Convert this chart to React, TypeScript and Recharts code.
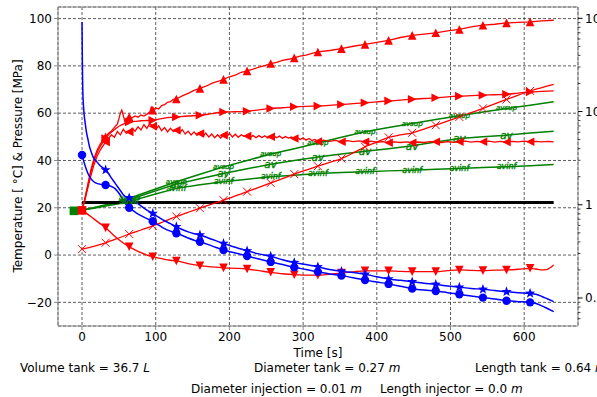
import React from "react";
import { ComposedChart, Line, XAxis, YAxis, CartesianGrid } from "recharts";

const FONT = "DejaVu Sans, sans-serif";
const RED = "#ff0000";
const BLUE = "#0000ff";
const GREEN = "#008000";

// [time s, value] pairs
const upPts: [number, number][] = [
  [0, 19], [4, 24], [8, 30], [12, 36], [16, 40.5], [20, 44], [24, 46.5], [28, 48.5], [32, 50],
  [36, 51.5], [40, 52.5], [44, 54], [48, 55.5], [50, 57.5], [52, 60], [54, 61.3], [56, 59],
  [58, 56.5], [60, 57.5], [64, 58.4], [68, 58], [72, 58.8], [76, 58.3], [80, 59.2], [84, 58.8],
  [88, 59.6], [92, 60.5], [94, 62.5], [96, 61.3], [100, 62.2], [104, 61.8], [108, 63.2],
  [112, 63.6], [116, 64.6], [120, 64.9], [124, 65.8], [128, 66], [136, 67.3], [144, 68.4],
  [152, 69.6], [160, 70.5], [168, 71.4], [176, 72.6], [184, 73.4], [192, 74.3], [200, 75.4],
  [208, 76.1], [216, 77.3], [224, 77.9], [232, 78.6], [240, 79.5], [248, 80.1], [256, 81],
  [264, 81.5], [272, 82.3], [280, 82.8], [288, 83.4], [296, 84.1], [304, 84.5], [312, 85.3],
  [320, 85.9], [336, 86.5], [352, 87.3], [368, 88.3], [384, 89.1], [400, 89.9], [416, 90.8],
  [432, 92], [448, 92.9], [464, 93.4], [480, 94], [496, 94.8], [512, 95.4], [528, 96.5],
  [544, 97.2], [560, 97.6], [576, 98.2], [592, 98.4], [608, 98.6], [624, 99], [640, 99.3],
];

const rightPts: [number, number][] = [
  [0, 19], [4, 24], [8, 29.5], [12, 35], [16, 39.5], [20, 43], [24, 45.5], [28, 47.5], [32, 49.3],
  [36, 50.8], [40, 52], [44, 53], [48, 54], [52, 54.8], [56, 55.4], [60, 55.9], [64, 56.3],
  [72, 56.5], [80, 56.8], [88, 56.9], [96, 57], [104, 57.5], [112, 57.9], [120, 58.2], [128, 58.4],
  [144, 58.8], [160, 59.1], [176, 59.8], [192, 60.5], [208, 60.6], [224, 60.8], [240, 61.4],
  [256, 62], [272, 62.3], [288, 62.7], [304, 62.9], [320, 63], [336, 63.3], [352, 63.7],
  [368, 64], [384, 64.4], [400, 64.8], [416, 65.2], [432, 65.5], [448, 65.9], [464, 66.2],
  [480, 66.5], [496, 66.9], [512, 67.2], [528, 67.4], [544, 67.6], [560, 67.8], [576, 68],
  [592, 68.5], [608, 69], [624, 69.2], [640, 69.4],
];

const leftPts: [number, number][] = [
  [0, 19], [4, 23.5], [8, 28.5], [12, 33.5], [16, 38], [20, 41.5], [24, 44], [28, 46], [32, 47.8],
  [36, 49.5], [40, 50.8], [44, 49.8], [48, 52.3], [52, 50.8], [56, 53.2], [60, 51.5], [64, 52.1],
  [68, 53.6], [72, 52.4], [76, 54.2], [80, 52.9], [84, 55.1], [88, 53.6], [92, 55.6], [96, 54.5],
  [100, 53.1], [104, 54.6], [108, 52.6], [112, 53.9], [116, 52.1], [120, 53.6], [124, 52.3],
  [128, 52.8], [132, 51.5], [136, 53.1], [140, 51.2], [144, 52.4], [148, 50.8], [152, 52.1],
  [156, 50.6], [160, 51.4], [164, 50.1], [168, 51.6], [172, 49.9], [176, 51.2], [180, 49.6],
  [184, 50.9], [188, 49.5], [192, 50.7], [196, 49.7], [200, 51.6], [204, 49.9], [208, 51.1],
  [212, 49.8], [216, 50.9], [220, 50.2], [224, 50.3], [228, 49.5], [232, 50.6], [236, 49.6],
  [240, 50.5], [244, 49.7], [248, 50.4], [252, 49.5], [256, 50], [260, 50.6], [264, 49.6],
  [268, 50.3], [272, 49.4], [276, 50.1], [280, 49.5], [284, 49.9], [288, 49.3], [292, 49.8],
  [296, 48.9], [300, 49.5], [304, 48.6], [308, 49.3], [312, 48.4], [316, 48.9], [320, 48],
  [328, 48.6], [336, 48.1], [344, 48.5], [352, 47.9], [360, 48.4], [368, 48], [376, 48.3],
  [384, 47.9], [392, 48.2], [400, 47.7], [408, 48], [416, 47.5], [424, 47.9], [432, 47.6],
  [440, 47.9], [448, 47.5], [456, 47.8], [464, 47.6], [472, 48], [480, 47.9], [488, 47.6],
  [496, 48], [504, 47.7], [512, 47.9], [520, 48.2], [528, 47.8], [536, 48.1], [544, 47.9],
  [552, 48.2], [560, 47.8], [568, 48.1], [576, 47.8], [584, 48.1], [592, 47.9], [600, 48.2],
  [608, 47.9], [616, 48.1], [624, 47.9], [632, 48.1], [640, 47.9],
];

const downPts: [number, number][] = [
  [0, 19], [8, 17.2], [16, 15.3], [24, 13.4], [32, 11.5], [40, 9.2], [48, 7], [56, 5.1], [64, 3.5],
  [72, 2.2], [80, 1], [88, 0], [96, -0.7], [104, -1.3], [112, -1.8], [120, -2.2], [128, -2.5],
  [144, -3.6], [160, -4.5], [176, -5], [192, -5.4], [208, -5.6], [224, -5.9], [240, -6.6],
  [256, -7.3], [272, -7.9], [288, -8.3], [304, -8.5], [320, -8.5], [336, -8.1], [352, -7.6],
  [368, -7.1], [384, -6.7], [400, -6.7], [416, -6.7], [432, -6.9], [448, -7], [464, -7],
  [480, -7], [496, -6.6], [512, -6.3], [528, -6.5], [544, -6.6], [560, -6.4], [576, -6.3],
  [592, -6], [608, -5.6], [616, -5.9], [624, -6.3], [630, -6.2], [634, -5.6], [640, -4.2],
];

const crossPts: [number, number][] = [
  [0, 2.5], [16, 3.7], [32, 5.2], [48, 7], [64, 8.9], [80, 10.6], [96, 12.3], [112, 14.3],
  [128, 16.3], [144, 18.1], [160, 19.8], [176, 21.5], [192, 23.2], [208, 25], [224, 26.8],
  [240, 28.6], [256, 30.5], [272, 32.3], [288, 34.2], [304, 35.9], [320, 37.6], [336, 39.2],
  [352, 40.8], [368, 43.2], [384, 45.8], [400, 47.8], [416, 49.8], [432, 50.8], [448, 51.7],
  [464, 53.3], [480, 54.9], [496, 56.6], [512, 58.4], [528, 60.2], [544, 62], [560, 63.9],
  [576, 65.8], [592, 67.6], [608, 69.4], [624, 70.8], [640, 72.2],
];

const starPts: [number, number][] = [
  [0, 98.6], [0.5, 80], [1, 70], [2, 63], [3, 59], [4, 56.5], [6, 52], [8, 49], [10, 46],
  [12, 44], [15, 41.5], [20, 39.5], [24, 38], [28, 37], [32, 36], [36, 34.5], [40, 32.5],
  [44, 30.8], [48, 29], [52, 27.3], [56, 25.5], [60, 24.5], [64, 24.2], [72, 22.5], [80, 20.8],
  [88, 19], [96, 17.6], [104, 16], [112, 14.5], [120, 13.3], [128, 12], [136, 10.8], [144, 9.8],
  [152, 9], [160, 8.5], [176, 6.7], [192, 4.9], [208, 3.3], [224, 1.8], [240, 0.5], [256, -0.5],
  [272, -2], [288, -3.2], [304, -4], [320, -5], [336, -6.1], [352, -6.9], [368, -7.4],
  [384, -8.1], [400, -9.2], [416, -10.1], [432, -10.7], [448, -11.3], [464, -11.9], [480, -12.4],
  [496, -13.1], [512, -13.6], [528, -14.1], [544, -14.5], [560, -15], [576, -15.5], [592, -15.9],
  [608, -16.2], [616, -16.6], [624, -17.5], [632, -18.6], [640, -19.7],
];

const dotPts: [number, number][] = [
  [0, 42.3], [4, 38], [8, 34.5], [12, 32.3], [16, 31], [20, 30.3], [24, 30], [28, 29.8],
  [32, 29.6], [36, 29.4], [40, 29], [44, 28.3], [48, 27], [52, 25.3], [56, 23.3], [60, 21.3],
  [64, 20], [72, 18.2], [80, 16.7], [88, 15.4], [96, 14.3], [104, 12.7], [112, 11.2], [120, 10.1],
  [128, 9.2], [136, 8.3], [144, 7.2], [152, 6.3], [160, 5.6], [176, 3.9], [192, 2.1], [208, 0.9],
  [224, -0.4], [240, -1.7], [256, -2.9], [272, -4], [288, -5.2], [304, -6.1], [320, -7.1],
  [336, -8], [352, -8.7], [368, -9.6], [384, -10.6], [400, -11.4], [416, -12.2], [432, -13.2],
  [448, -14.2], [464, -14.8], [480, -15.2], [496, -15.9], [512, -16.6], [528, -17.3], [544, -18],
  [560, -18.6], [576, -19.3], [592, -19.7], [608, -20], [616, -20.5], [624, -21.5], [632, -22.7],
  [640, -23.9],
];

const avsupPts: [number, number][] = [
  [-14, 18.5], [0, 19], [16, 20], [32, 21.3], [48, 22.6], [64, 24], [96, 27.5], [128, 31],
  [160, 34.2], [192, 37.3], [224, 40], [256, 42.7], [288, 45], [320, 47.4], [352, 49.8],
  [384, 52.1], [416, 53.9], [448, 55.6], [480, 57.3], [512, 58.9], [544, 60.5], [576, 62],
  [608, 63.4], [640, 64.8],
];

const avPts: [number, number][] = [
  [-14, 18.5], [0, 19], [16, 20], [32, 21], [48, 22.2], [64, 23.4], [96, 26.8], [128, 30],
  [160, 32.3], [192, 34.5], [224, 36.5], [256, 38.4], [288, 40], [320, 41.5], [352, 42.7],
  [384, 43.9], [416, 45], [448, 46.2], [480, 47.8], [512, 49.3], [544, 50], [576, 50.7],
  [608, 51.6], [640, 52.4],
];

const avinfPts: [number, number][] = [
  [-14, 18.5], [0, 19], [16, 19.8], [32, 20.7], [48, 21.6], [64, 22.6], [96, 25.5], [128, 28.2],
  [160, 29.7], [192, 31], [224, 32.1], [256, 33.1], [288, 33.8], [320, 34.5], [352, 34.9],
  [384, 35.2], [416, 35.6], [448, 35.9], [480, 36.3], [512, 36.6], [544, 37], [576, 37.3],
  [608, 37.8], [640, 38.3],
];

const redSquare: [number, number][] = [[0, 18.9]];
const greenSquare: [number, number][] = [[-11, 18.7]];
// pressure [MPa] on the log axis
const pressurePts: [number, number][] = [[0, 1.06], [640, 1.06]];

const xTicks = [0, 100, 200, 300, 400, 500, 600];
const yTicks = [-20, 0, 20, 40, 60, 80, 100];
const pMajor = [0.1, 1, 10, 100];
const pMinor = [0.06, 0.07, 0.08, 0.09, 0.2, 0.3, 0.4, 0.5, 0.6, 0.7, 0.8, 0.9,
  2, 3, 4, 5, 6, 7, 8, 9, 20, 30, 40, 50, 60, 70, 80, 90];

const toRows = (pts: [number, number][]) => pts.map(([t, v]) => ({ t, v }));

function shape(kind: string, color: string, cx: number, cy: number, key: string) {
  const r = 4.3;
  switch (kind) {
    case "up":
      return <polygon key={key} points={`${cx},${cy - r} ${cx + r},${cy + r} ${cx - r},${cy + r}`} fill={color} />;
    case "down":
      return <polygon key={key} points={`${cx},${cy + r} ${cx + r},${cy - r} ${cx - r},${cy - r}`} fill={color} />;
    case "right":
      return <polygon key={key} points={`${cx + r},${cy} ${cx - r},${cy - r} ${cx - r},${cy + r}`} fill={color} />;
    case "left":
      return <polygon key={key} points={`${cx - r},${cy} ${cx + r},${cy - r} ${cx + r},${cy + r}`} fill={color} />;
    case "circle":
      return <circle key={key} cx={cx} cy={cy} r={4.2} fill={color} />;
    case "square":
      return <rect key={key} x={cx - 4.3} y={cy - 4.3} width={8.6} height={8.6} fill={color} />;
    case "x":
      return (
        <path key={key} d={`M${cx - 4} ${cy - 4}L${cx + 4} ${cy + 4}M${cx - 4} ${cy + 4}L${cx + 4} ${cy - 4}`}
          stroke={color} strokeWidth={1} />
      );
    case "star": {
      const pts: string[] = [];
      for (let i = 0; i < 10; i++) {
        const rad = i % 2 === 0 ? 5.4 : 2.2;
        const a = -Math.PI / 2 + (i * Math.PI) / 5;
        pts.push(`${cx + rad * Math.cos(a)},${cy + rad * Math.sin(a)}`);
      }
      return <polygon key={key} points={pts.join(" ")} fill={color} />;
    }
    default:
      return <g key={key} />;
  }
}

function marks(name: string, kind: string, color: string, from: number, every: number) {
  return (p: any) => {
    const t = p.payload?.t;
    const key = `${name}-${p.index}`;
    if (t == null || t < from || t > 608 || t % every !== 0 || p.cx == null) return <g key={key} />;
    return shape(kind, color, p.cx, p.cy, key);
  };
}

function textMarks(name: string, label: string, size: number) {
  return (p: any) => {
    const t = p.payload?.t;
    const key = `${name}-${p.index}`;
    if (t == null || t < 64 || t > 576 || t % 64 !== 0 || p.cx == null) return <g key={key} />;
    return (
      <text key={key} x={p.cx} y={p.cy} textAnchor="middle" dominantBaseline="central"
        fontFamily={FONT} fontStyle="italic" fontSize={size} fill={GREEN}
        stroke={GREEN} strokeWidth={0.35}>
        {label}
      </text>
    );
  };
}

const fmtLeft = (v: number) => (v < 0 ? `\u2212${Math.abs(v)}` : `${v}`);

const RightTick = (props: any) => {
  const { x, y, payload } = props;
  const v = payload.value;
  const major = pMajor.includes(v);
  return (
    <g>
      <line x1={x} x2={x + (major ? 4.5 : 2.5)} y1={y} y2={y} stroke="#000" strokeWidth={major ? 1 : 0.7} />
      {major && (
        <text x={x + 7} y={y} dy="0.35em" fontSize={12} fontFamily={FONT} fill="#000">
          {String(v)}
        </text>
      )}
    </g>
  );
};

export default function App() {
  const common = { xAxisId: "x", dataKey: "v", isAnimationActive: false, activeDot: false as const };
  return (
    <div style={{ position: "absolute", left: 0, top: 0, width: 597, height: 397, overflow: "hidden", background: "#fff" }}>
      <ComposedChart width={597} height={397} margin={{ top: 7, right: 0, bottom: 46, left: 0 }}>
        <CartesianGrid xAxisId="x" yAxisId="left" stroke="#333" strokeWidth={0.8} strokeDasharray="3 2" />
        <XAxis xAxisId="x" dataKey="t" type="number" domain={[-32.6, 673]} allowDataOverflow ticks={xTicks}
          interval={0} height={25} tickSize={4} tickMargin={2} stroke="#888"
          tick={{ fontSize: 12, fontFamily: FONT, fill: "#000" }} />
        <YAxis yAxisId="left" type="number" domain={[-30, 104.9]} allowDataOverflow ticks={yTicks}
          interval={0} width={58} tickSize={4} tickMargin={2} stroke="#888" tickFormatter={fmtLeft}
          tick={{ fontSize: 12, fontFamily: FONT, fill: "#000" }} />
        <YAxis yAxisId="right" orientation="right" scale="log" type="number" domain={[0.0501, 132.2]}
          allowDataOverflow ticks={[...pMinor, ...pMajor].sort((a, b) => a - b)} interval={0} width={19}
          tickSize={0} tickMargin={0} tickLine={false} stroke="#888" tick={<RightTick />} />

        <Line {...common} yAxisId="left" data={toRows(avsupPts)} stroke={GREEN} strokeWidth={1.5} dot={textMarks("avsup", "avsup", 7)} />
        <Line {...common} yAxisId="left" data={toRows(avPts)} stroke={GREEN} strokeWidth={1.5} dot={textMarks("av", "av", 10.5)} />
        <Line {...common} yAxisId="left" data={toRows(avinfPts)} stroke={GREEN} strokeWidth={1.5} dot={textMarks("avinf", "avinf", 8)} />
        <Line {...common} yAxisId="left" data={toRows(greenSquare)} stroke={GREEN} dot={marks("gsq", "square", GREEN, -100, 1)} />

        <Line {...common} yAxisId="right" data={toRows(pressurePts)} stroke="#000" strokeWidth={3} dot={false} />

        <Line {...common} yAxisId="left" data={toRows(upPts)} stroke={RED} strokeWidth={1.3} dot={marks("up", "up", RED, 32, 32)} />
        <Line {...common} yAxisId="left" data={toRows(rightPts)} stroke={RED} strokeWidth={1.3} type="monotone" dot={marks("right", "right", RED, 32, 32)} />
        <Line {...common} yAxisId="left" data={toRows(leftPts)} stroke={RED} strokeWidth={1.3} dot={marks("left", "left", RED, 32, 32)} />
        <Line {...common} yAxisId="left" data={toRows(downPts)} stroke={RED} strokeWidth={1.3} type="monotone" dot={marks("down", "down", RED, 32, 32)} />
        <Line {...common} yAxisId="left" data={toRows(crossPts)} stroke={RED} strokeWidth={1.3} type="monotone" dot={marks("cross", "x", RED, 0, 32)} />
        <Line {...common} yAxisId="left" data={toRows(redSquare)} stroke={RED} dot={marks("rsq", "square", RED, -100, 1)} />

        <Line {...common} yAxisId="left" data={toRows(starPts)} stroke={BLUE} strokeWidth={1.5} type="monotone" dot={marks("star", "star", BLUE, 32, 32)} />
        <Line {...common} yAxisId="left" data={toRows(dotPts)} stroke={BLUE} strokeWidth={1.5} type="monotone" dot={marks("dot", "circle", BLUE, 0, 32)} />
      </ComposedChart>

      <svg width={597} height={397} style={{ position: "absolute", left: 0, top: 0, pointerEvents: "none" }}>
        <line x1={58} x2={578} y1={7} y2={7} stroke="#888" strokeWidth={1} />
        <text x={18} y={166} transform="rotate(-90 18 166)" textAnchor="middle" dominantBaseline="central"
          fontSize={12} fontFamily={FONT} fill="#000">
          Temperature [ °C] &amp; Pressure [MPa]
        </text>
        <g fontSize={12} fontFamily={FONT} fill="#000">
          <text x={318} y={356.5} textAnchor="middle">Time [s]</text>
          <text x={20} y={371.5}>Volume tank = 36.7 <tspan fontStyle="italic">L</tspan></text>
          <text x={254} y={371.5}>Diameter tank = 0.27 <tspan fontStyle="italic">m</tspan></text>
          <text x={475} y={371.5}>Length tank = 0.64 <tspan fontStyle="italic">m</tspan></text>
          <text x={191} y={392.5}>Diameter injection = 0.01 <tspan fontStyle="italic">m</tspan></text>
          <text x={380} y={392.5}>Length injector = 0.0 <tspan fontStyle="italic">m</tspan></text>
        </g>
      </svg>
    </div>
  );
}
